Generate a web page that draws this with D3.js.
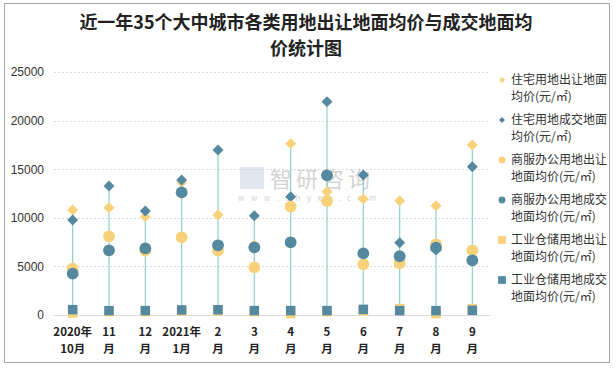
<!DOCTYPE html>
<html><head><meta charset="utf-8">
<script src="https://cdn.jsdelivr.net/npm/d3@7/dist/d3.min.js"></script>
<style>body{margin:0;background:#fff;}svg{display:block;}</style>
</head><body>
<svg id="c" width="616" height="369"></svg>
<script>
const categories = [["2020年","10月"],["11","月"],["12","月"],["2021年","1月"],["2","月"],["3","月"],["4","月"],["5","月"],["6","月"],["7","月"],["8","月"],["9","月"]];
const resSell  = [10800,11040,10120,13650,10290,7200,17630,12690,11930,11760,11250,17490];
const resDeal  = [9770,13270,10700,13890,16980,10220,12170,21950,14400,7440,6690,15260];
const comSell  = [4770,8090,6620,7990,6620,4900,11150,11730,5210,5320,7270,6650];
const comDeal  = [4250,6650,6860,12620,7170,6960,7480,14370,6340,6040,6930,5620];
const indSell  = [200,350,350,400,420,350,150,350,450,650,150,650];
const indDeal  = [550,450,450,520,540,450,450,450,580,450,450,480];
const yTicks = [0,5000,10000,15000,20000,25000];
const seriesNames = ["住宅用地出让地面均价(元/㎡)","住宅用地成交地面均价(元/㎡)","商服办公用地出让地面均价(元/㎡)","商服办公用地成交地面均价(元/㎡)","工业仓储用地出让地面均价(元/㎡)","工业仓储用地成交地面均价(元/㎡)"];
const legendLines = [["住宅用地出让地面","均价(元/㎡)"],["住宅用地成交地面","均价(元/㎡)"],["商服办公用地出让","地面均价(元/㎡)"],["商服办公用地成交","地面均价(元/㎡)"],["工业仓储用地出让","地面均价(元/㎡)"],["工业仓储用地成交","地面均价(元/㎡)"]];

const YELLOW = "#f8d27a", TEAL = "#5489a0", LINE = "#8fd0cc";
const series = [
  {vals: resSell, color: YELLOW, shape: "diamond"},
  {vals: resDeal, color: TEAL, shape: "diamond"},
  {vals: comSell, color: YELLOW, shape: "circle"},
  {vals: comDeal, color: TEAL, shape: "circle"},
  {vals: indSell, color: YELLOW, shape: "square"},
  {vals: indDeal, color: TEAL, shape: "square"}
];
const font = "'Noto Sans CJK SC','Noto Sans',sans-serif";
const svg = d3.select("#c");
svg.append("rect").attr("x",4.5).attr("y",3.5).attr("width",605).attr("height",359)
  .attr("fill","#fff").attr("stroke","#a6a6a6");

// title
const title = svg.append("text").attr("x",306).attr("text-anchor","middle")
  .style("font-family",font).style("font-size","18px").style("font-weight","bold").attr("fill","#222");
title.append("tspan").attr("x",306).attr("y",29).text("近一年35个大中城市各类用地出让地面均价与成交地面均");
title.append("tspan").attr("x",306).attr("y",55).text("价统计图");

const x = d3.scaleBand().domain(d3.range(categories.length)).range([54.5,490.5]);
const y = d3.scaleLinear().domain([0,25000]).range([315,72]);

// grid
svg.append("g").selectAll("line").data(yTicks.filter(d=>d>0)).join("line")
  .attr("x1",54).attr("x2",490).attr("y1",d=>Math.round(y(d))+0.5).attr("y2",d=>Math.round(y(d))+0.5)
  .attr("stroke","#dcdcdc").attr("stroke-dasharray","2,2");

// y axis
const ya = svg.append("g").attr("transform","translate(54,0)")
  .call(d3.axisLeft(y).tickValues(yTicks).tickSize(0).tickPadding(10).tickFormat(d3.format("d")));
ya.select(".domain").remove();
ya.selectAll("text").style("font-family","'Liberation Sans',Arial,sans-serif").style("font-size","12px").attr("fill","#333");

// x axis line
svg.append("line").attr("x1",54).attr("x2",490).attr("y1",315.5).attr("y2",315.5).attr("stroke","#d9d9d9");

// x labels
const xl = svg.append("g");
categories.forEach((c,i)=>{
  const cx = x(i)+x.bandwidth()/2;
  const t = xl.append("text").attr("text-anchor","middle").style("font-family",font)
    .style("font-size","11.5px").style("font-weight","bold").attr("fill","#222");
  t.append("tspan").attr("x",cx).attr("y",336).text(c[0]);
  t.append("tspan").attr("x",cx).attr("y",353).text(c[1]);
});

// watermark
const wm = svg.append("g").attr("opacity",0.55);
wm.append("rect").attr("x",240).attr("y",167).attr("width",24).attr("height",22).attr("fill","#c8d4e4");
wm.append("text").attr("x",270).attr("y",187).style("font-family",font).style("font-size","22px").attr("fill","#b0b0b0").attr("letter-spacing","4").text("智研咨询");
wm.append("text").attr("x",238).attr("y",201).style("font-family",font).style("font-size","8px").attr("fill","#b0b0b0").attr("letter-spacing","6.5").text("www.chyxx.com");

// high-low lines
const cats = d3.range(categories.length);
svg.append("g").selectAll("line").data(cats).join("line")
  .attr("x1",i=>x(i)+x.bandwidth()/2).attr("x2",i=>x(i)+x.bandwidth()/2)
  .attr("y1",i=>y(d3.max(series,s=>s.vals[i]))).attr("y2",i=>y(d3.min(series,s=>s.vals[i])))
  .attr("stroke",LINE).attr("stroke-width",1.2);

function sym(shape, size){
  if(shape==="diamond") return d3.symbol(d3.symbolDiamond2 || d3.symbolSquare, size)();
  if(shape==="circle") return d3.symbol(d3.symbolCircle, size)();
  return d3.symbol(d3.symbolSquare, size)();
}
const sizes = {diamond: 60, circle: 110, square: 90};
series.forEach(s=>{
  const p = s.shape==="diamond" ? d3.symbol(d3.symbolSquare, sizes.diamond)() : sym(s.shape, sizes[s.shape]);
  svg.append("g").selectAll("path").data(cats).join("path")
    .attr("d",p)
    .attr("transform",i=>`translate(${x(i)+x.bandwidth()/2},${y(s.vals[i])})` + (s.shape==="diamond"?" rotate(45)":""))
    .attr("fill",s.color);
});

// legend
const lg = svg.append("g");
legendLines.forEach((l,k)=>{
  const s = series[k];
  const y0 = 84 + k*40;
  const lsize = s.shape==="diamond"?18: s.shape==="circle"?36:60;
  lg.append("path").attr("d", s.shape==="diamond"? d3.symbol(d3.symbolSquare,lsize)() : sym(s.shape,lsize))
    .attr("transform",`translate(502,${y0-4})`+(s.shape==="diamond"?" rotate(45)":""))
    .attr("fill",s.color);
  const t = lg.append("text").style("font-family",font).style("font-size","12px").attr("fill","#333");
  t.append("tspan").attr("x",511).attr("y",y0).text(l[0]);
  t.append("tspan").attr("x",511).attr("y",y0+17).text(l[1]);
});
</script>
</body></html>
